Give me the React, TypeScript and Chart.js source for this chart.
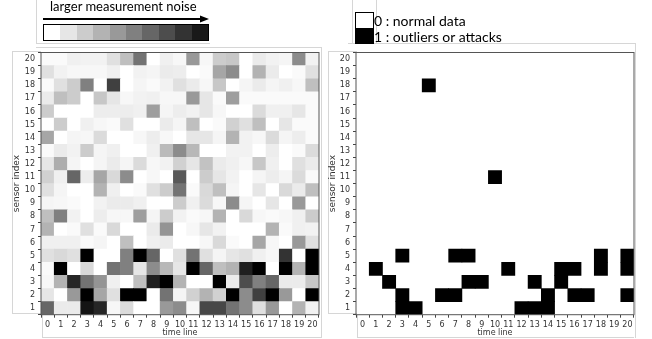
import React, { useEffect, useRef } from 'react';
import { Chart, registerables } from 'chart.js';

Chart.register(...registerables);

// ---- data ----
const timeLabels = ['0', '1', '2', '3', '4', '5', '6', '7', '8', '9', '10', '11', '12', '13', '14', '15', '16', '17', '18', '19', '20'];
const sensorTicks = [1, 2, 3, 4, 5, 6, 7, 8, 9, 10, 11, 12, 13, 14, 15, 16, 17, 18, 19, 20];

// measurement noise level (0 = none/white, 1 = largest/black), per sensor, over time 0..20
const noiseS1 = [0.6, 0.08, 0.08, 0.92, 0.85, 0.03, 0.14, 0.0, 0.0, 0.4, 0.45, 0.03, 0.72, 0.72, 0.55, 0.45, 0.12, 0.4, 0.0, 0.3, 0.05];
const noiseS2 = [0.1, 0.0, 0.4, 1.0, 0.35, 0.12, 1.0, 1.0, 0.0, 0.55, 0.04, 0.18, 0.3, 0.18, 1.0, 0.45, 0.75, 1.0, 0.4, 0.0, 1.0];
const noiseS3 = [0.03, 0.3, 0.85, 0.55, 0.42, 0.06, 0.0, 0.25, 0.88, 1.0, 0.3, 0.0, 0.0, 1.0, 0.08, 0.7, 0.5, 0.6, 0.08, 0.08, 0.22];
const noiseS4 = [0.02, 1.0, 0.0, 0.15, 0.0, 0.55, 0.5, 0.1, 0.45, 0.28, 0.1, 1.0, 0.6, 0.25, 0.3, 0.88, 1.0, 0.0, 1.0, 0.3, 1.0];
const noiseS5 = [0.12, 0.15, 0.12, 1.0, 0.0, 0.0, 0.5, 1.0, 0.6, 0.0, 0.12, 0.55, 0.12, 0.04, 0.1, 0.12, 0.06, 0.03, 0.8, 0.0, 1.0];
const noiseS6 = [0.06, 0.06, 0.06, 0.02, 0.04, 0.0, 0.25, 0.0, 0.06, 0.08, 0.0, 0.0, 0.03, 0.15, 0.02, 0.0, 0.35, 0.03, 0.0, 0.4, 0.12];
const noiseS7 = [0.3, 0.0, 0.02, 0.12, 0.02, 0.15, 0.0, 0.0, 0.08, 0.42, 0.0, 0.03, 0.1, 0.05, 0.0, 0.0, 0.0, 0.3, 0.02, 0.06, 0.05];
const noiseS8 = [0.25, 0.5, 0.05, 0.0, 0.07, 0.03, 0.03, 0.38, 0.04, 0.2, 0.05, 0.02, 0.03, 0.3, 0.0, 0.15, 0.03, 0.02, 0.03, 0.06, 0.2];
const noiseS9 = [0.04, 0.03, 0.02, 0.0, 0.05, 0.08, 0.08, 0.06, 0.0, 0.0, 0.2, 0.06, 0.14, 0.03, 0.45, 0.04, 0.0, 0.1, 0.0, 0.4, 0.0];
const noiseS10 = [0.12, 0.04, 0.0, 0.0, 0.3, 0.06, 0.0, 0.02, 0.12, 0.2, 0.55, 0.02, 0.15, 0.25, 0.04, 0.0, 0.1, 0.0, 0.15, 0.08, 0.25];
const noiseS11 = [0.18, 0.06, 0.6, 0.07, 0.35, 0.15, 0.45, 0.0, 0.03, 0.0, 0.65, 0.0, 0.2, 0.1, 0.05, 0.0, 0.04, 0.07, 0.04, 0.14, 0.02];
const noiseS12 = [0.1, 0.32, 0.04, 0.0, 0.04, 0.08, 0.04, 0.14, 0.03, 0.05, 0.18, 0.1, 0.24, 0.08, 0.06, 0.03, 0.22, 0.06, 0.0, 0.12, 0.08];
const noiseS13 = [0.02, 0.08, 0.05, 0.2, 0.04, 0.06, 0.0, 0.0, 0.06, 0.27, 0.45, 0.28, 0.0, 0.0, 0.05, 0.05, 0.0, 0.07, 0.0, 0.02, 0.14];
const noiseS14 = [0.35, 0.0, 0.04, 0.03, 0.14, 0.0, 0.0, 0.03, 0.07, 0.03, 0.0, 0.1, 0.1, 0.04, 0.3, 0.05, 0.03, 0.14, 0.04, 0.07, 0.02];
const noiseS15 = [0.0, 0.2, 0.0, 0.06, 0.03, 0.02, 0.12, 0.0, 0.0, 0.08, 0.04, 0.25, 0.0, 0.02, 0.18, 0.12, 0.25, 0.0, 0.1, 0.02, 0.02];
const noiseS16 = [0.2, 0.0, 0.0, 0.0, 0.07, 0.07, 0.07, 0.06, 0.38, 0.04, 0.07, 0.05, 0.1, 0.03, 0.0, 0.0, 0.14, 0.06, 0.06, 0.1, 0.02];
const noiseS17 = [0.08, 0.25, 0.2, 0.0, 0.22, 0.1, 0.03, 0.05, 0.06, 0.03, 0.03, 0.4, 0.1, 0.02, 0.38, 0.02, 0.02, 0.02, 0.02, 0.02, 0.02];
const noiseS18 = [0.02, 0.12, 0.2, 0.5, 0.0, 0.75, 0.0, 0.04, 0.02, 0.05, 0.12, 0.08, 0.03, 0.22, 0.0, 0.04, 0.08, 0.04, 0.06, 0.03, 0.25];
const noiseS19 = [0.12, 0.05, 0.03, 0.03, 0.03, 0.06, 0.0, 0.05, 0.04, 0.08, 0.07, 0.0, 0.02, 0.35, 0.45, 0.0, 0.3, 0.08, 0.0, 0.02, 0.12];
const noiseS20 = [0.02, 0.02, 0.06, 0.05, 0.05, 0.12, 0.25, 0.55, 0.0, 0.06, 0.03, 0.4, 0.03, 0.2, 0.22, 0.0, 0.08, 0.05, 0.04, 0.45, 0.05];
const noiseRows = [noiseS1, noiseS2, noiseS3, noiseS4, noiseS5, noiseS6, noiseS7, noiseS8, noiseS9, noiseS10,
  noiseS11, noiseS12, noiseS13, noiseS14, noiseS15, noiseS16, noiseS17, noiseS18, noiseS19, noiseS20];

// outliers / attacks: time indices flagged 1, per sensor
const outlierS1 = [3, 4, 12, 13, 14];
const outlierS2 = [3, 6, 7, 14, 16, 17, 20];
const outlierS3 = [2, 8, 9, 13, 15];
const outlierS4 = [1, 11, 15, 16, 18, 20];
const outlierS5 = [3, 7, 8, 18, 20];
const outlierS11 = [10];
const outlierS18 = [5];
const outlierRows = [outlierS1, outlierS2, outlierS3, outlierS4, outlierS5, [], [], [], [], [],
  outlierS11, [], [], [], [], [], [], outlierS18, [], []];

const legendLevels = [0, 0.1, 0.2, 0.3, 0.4, 0.5, 0.6, 0.7, 0.8, 0.9];
const noiseLegendTitle = 'larger measurement noise';
const binaryLegend = ['0 : normal data', '1 : outliers or attacks'];
const xTitle = 'time line';
const yTitle = 'sensor index';

// ---- helpers ----
const gray = (v: number) => {
  const g = Math.round(255 * (1 - v));
  return `rgb(${g},${g},${g})`;
};

const TICK_FONT = { family: '"DejaVu Sans", sans-serif', size: 8 };
const YTITLE_FONT = { family: '"DejaVu Sans", sans-serif', size: 9 };

const framePlugin = {
  id: 'frame',
  afterDatasetsDraw(chart: any) {
    const { ctx, chartArea } = chart;
    ctx.save();
    ctx.strokeStyle = '#555';
    ctx.lineWidth = 1;
    ctx.strokeRect(chartArea.left, chartArea.top, chartArea.right - chartArea.left, chartArea.bottom - chartArea.top);
    ctx.restore();
  },
};

function makeConfig(datasets: any[], yAxisWidth: number, yTitlePad: number, padRight: number) {
  return {
    type: 'bar',
    data: { labels: timeLabels, datasets },
    plugins: [framePlugin],
    options: {
      animation: false,
      responsive: false,
      devicePixelRatio: 1,
      layout: { padding: { top: 52.5, right: padRight, bottom: 0, left: 0 } },
      plugins: { legend: { display: false }, tooltip: { enabled: false } },
      datasets: { bar: { barPercentage: 1, categoryPercentage: 1, grouped: false, borderWidth: 0 } },
      scales: {
        x: {
          type: 'category',
          offset: true,
          grid: { display: true, drawOnChartArea: false, offset: true, tickLength: 3, color: '#444' },
          border: { display: false },
          ticks: { color: '#333', font: TICK_FONT, padding: 2.5, maxRotation: 0, autoSkip: false },
          title: { display: true, text: xTitle, color: '#333', font: TICK_FONT, padding: { top: 0, bottom: 1 } },
          afterFit: (s: any) => { s.height = 24.3; },
        },
        y: {
          type: 'linear',
          min: 0.5,
          max: 20.5,
          afterBuildTicks: (s: any) => { s.ticks = sensorTicks.map((v) => ({ value: v })); },
          grid: { display: true, drawOnChartArea: false, offset: true, tickLength: 3, color: '#444' },
          border: { display: false },
          ticks: { color: '#333', font: TICK_FONT, padding: 3, callback: (v: any) => String(v) },
          title: { display: true, text: yTitle, color: '#333', font: YTITLE_FONT, padding: { top: yTitlePad, bottom: 0 } },
          afterFit: (s: any) => { s.width = yAxisWidth; },
        },
      },
    },
  };
}

const noiseDatasets = noiseRows.map((row, i) => {
  const s = sensorTicks[i];
  return {
    label: `sensor ${s}`,
    data: timeLabels.map(() => [s - 0.5, s + 0.5]),
    backgroundColor: row.map(gray),
  };
});

const outlierDatasets = outlierRows.map((row, i) => {
  const s = sensorTicks[i];
  return {
    label: `sensor ${s}`,
    data: timeLabels.map((_, t) => (row.includes(t) ? [s - 0.5, s + 0.5] : null)),
    backgroundColor: '#000',
  };
});

function HeatChart({ datasets, left, width, yAxisWidth, yTitlePad, padRight }: any) {
  const ref = useRef<HTMLCanvasElement>(null);
  useEffect(() => {
    const chart = new Chart(ref.current as HTMLCanvasElement, makeConfig(datasets, yAxisWidth, yTitlePad, padRight) as any);
    return () => chart.destroy();
  }, []);
  return (
    <canvas ref={ref} width={width} height={339}
      style={{ position: 'absolute', left, top: 0, width, height: 339 }} />
  );
}

const lineColor = '#d6d6d6';
function Box({ l, t, w, h, sides }: any) {
  const st: any = { position: 'absolute', left: l, top: t, width: w, height: h, boxSizing: 'border-box' };
  for (const s of sides) st['border' + s] = `1px solid ${lineColor}`;
  return <div style={st} />;
}

export default function App() {
  const legendFont = 'Lato, "Open Sans", sans-serif';
  return (
    <div style={{ position: 'absolute', left: 0, top: 0, width: 652, height: 339, background: '#fff', overflow: 'hidden' }}>
      {/* decorative component frames */}
      <Box l={36} t={-1} w={174} h={45} sides={['Left', 'Bottom']} />
      <Box l={36} t={47} w={286} h={291} sides={['Top', 'Right']} />
      <Box l={12} t={51} w={29} h={263} sides={['Left', 'Top', 'Bottom']} />
      <Box l={42} t={315} w={279} h={23} sides={['Left', 'Bottom']} />

      <Box l={352} t={-1} w={25} h={45} sides={['Left', 'Right']} />
      <Box l={348} t={43} w={288} h={295} sides={['Top', 'Right']} />
      <Box l={328} t={51} w={29} h={263} sides={['Left', 'Top', 'Bottom']} />
      <Box l={357} t={315} w={277} h={23} sides={['Left', 'Bottom']} />

      <HeatChart datasets={noiseDatasets} left={0} width={324} yAxisWidth={41} yTitlePad={11.3} padRight={5} />
      <HeatChart datasets={outlierDatasets} left={324} width={328} yAxisWidth={32} yTitlePad={3.6} padRight={18} />

      {/* left legend: noise scale */}
      <div style={{ position: 'absolute', left: 50, top: 0, fontFamily: legendFont, fontSize: 13, lineHeight: '13px', color: '#000', whiteSpace: 'nowrap' }}>
        {noiseLegendTitle}
      </div>
      <svg style={{ position: 'absolute', left: 40, top: 14 }} width={175} height={10}>
        <line x1={3} y1={5} x2={162} y2={5} stroke="#000" strokeWidth={2} />
        <polygon points="160,1.5 169,5 160,8.5" fill="#000" />
      </svg>
      <div style={{ position: 'absolute', left: 43, top: 24, width: 166, height: 17, border: '1px solid #000', boxSizing: 'border-box', display: 'flex' }}>
        {legendLevels.map((v, i) => (
          <div key={i} style={{ flex: 1, background: gray(v) }} />
        ))}
      </div>

      {/* right legend: binary */}
      <div style={{ position: 'absolute', left: 355, top: 12, width: 19, height: 17, border: '1px solid #000', boxSizing: 'border-box', background: '#fff' }} />
      <div style={{ position: 'absolute', left: 355, top: 28, width: 19, height: 16, border: '1px solid #000', boxSizing: 'border-box', background: '#000' }} />
      <div style={{ position: 'absolute', left: 374, top: 14.3, fontFamily: legendFont, fontSize: 14, lineHeight: '14px', color: '#000', whiteSpace: 'nowrap' }}>
        {binaryLegend[0]}
      </div>
      <div style={{ position: 'absolute', left: 374, top: 30.3, fontFamily: legendFont, fontSize: 14, lineHeight: '14px', color: '#000', whiteSpace: 'nowrap' }}>
        {binaryLegend[1]}
      </div>
    </div>
  );
}
